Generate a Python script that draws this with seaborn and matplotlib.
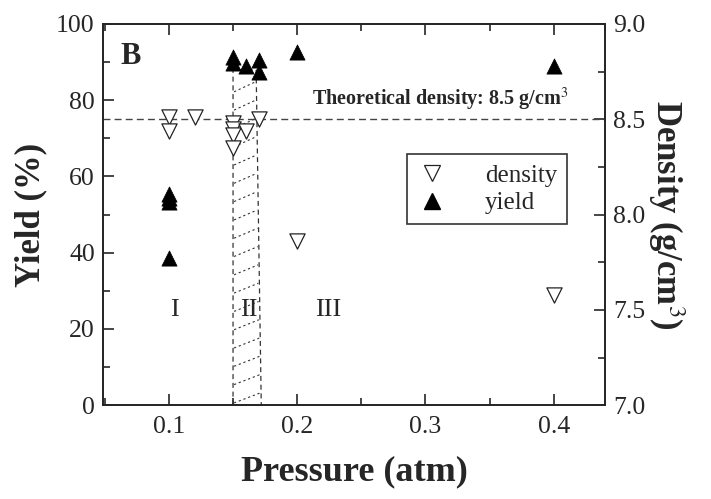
import numpy as np
import pandas as pd
import matplotlib
matplotlib.use("Agg")
import matplotlib.pyplot as plt
from matplotlib.lines import Line2D
from matplotlib.ticker import MultipleLocator
import seaborn as sns

# ---- data ----
yield_pressure = [0.10, 0.10, 0.10, 0.10, 0.15, 0.15, 0.16, 0.17, 0.17, 0.20, 0.40]
yield_values   = [55.5, 54.3, 53.3, 38.7, 91.3, 89.8, 89.0, 90.5, 87.3, 92.6, 89.0]

density_pressure = [0.10, 0.10, 0.12, 0.15, 0.15, 0.15, 0.15, 0.16, 0.17, 0.20, 0.40]
density_values   = [8.51, 8.44, 8.51, 8.48, 8.45, 8.42, 8.35, 8.44, 8.50, 7.86, 7.58]

theoretical_density = 8.5
region_labels = ["I", "II", "III"]
region_label_x = [0.104, 0.1625, 0.224]
region_label_y = 25
region_II_x_bottom = [0.150, 0.172]
region_II_x_top = [0.150, 0.168]
region_II_top = 88

xticks = [0.1, 0.2, 0.3, 0.4]
yticks_left = [0, 20, 40, 60, 80, 100]
yticks_right = [7.0, 7.5, 8.0, 8.5, 9.0]

df_y = pd.DataFrame({"Pressure": yield_pressure, "Yield": yield_values})
df_d = pd.DataFrame({"Pressure": density_pressure, "Density": density_values})

sns.set_style("ticks")
plt.rcParams["font.family"] = ["Liberation Serif", "DejaVu Serif"]
plt.rcParams["mathtext.fontset"] = "stix"

fig = plt.figure(figsize=(7.11, 4.99), dpi=100)
ax = fig.add_axes([0.145, 0.188, 0.706, 0.764])
ax2 = ax.twinx()

# region II: dashed parallelogram with dashed shallow hatch lines
poly_x = [region_II_x_bottom[0], region_II_x_bottom[1], region_II_x_top[1],
          region_II_x_top[0], region_II_x_bottom[0]]
poly_y = [0, 0, region_II_top, region_II_top, 0]
ax.plot(poly_x, poly_y, color="#333333", linestyle=(0, (4, 3)), linewidth=0.9, zorder=1)


def _xr(yv):
    f = yv / region_II_top
    return region_II_x_bottom[1] + f * (region_II_x_top[1] - region_II_x_bottom[1])


hatch_step, hatch_rise = 4.8, 2.6
for y0 in np.arange(0.6, region_II_top - hatch_rise, hatch_step):
    x0 = region_II_x_bottom[0] + 0.0008
    y1 = y0 + hatch_rise
    ax.plot([x0, _xr(y1) - 0.0008], [y0, y1], color="#333333",
            linestyle=(0, (2, 2.5)), linewidth=0.8, zorder=1)

sns.scatterplot(data=df_y, x="Pressure", y="Yield", ax=ax, marker="^", s=120,
                color="black", edgecolor="black", linewidth=0.5, zorder=3, legend=False)
sns.scatterplot(data=df_d, x="Pressure", y="Density", ax=ax2, marker="v", s=120,
                facecolor="white", edgecolor="#222222", linewidth=0.9, zorder=3, legend=False)

ax2.axhline(theoretical_density, color="#444444", linestyle=(0, (5, 3)), linewidth=1.0, zorder=2)
ax2.text(0.2115, theoretical_density + 0.035, "Theoretical density: 8.5 g/cm$^3$",
         fontsize=14.5, fontweight="bold", ha="left", va="bottom")

for lab, lx in zip(region_labels, region_label_x):
    ax.text(lx, region_label_y, lab, fontsize=19, ha="center", va="center")

ax.text(0.0705, 91.5, "B", fontsize=22, fontweight="bold", ha="center", va="center")

ax.set_xlim(0.0487, 0.440)
ax.set_ylim(0, 100)
ax2.set_ylim(7.0, 9.0)
ax.set_xticks(xticks)
ax.set_xticklabels([f"{v:.1f}" for v in xticks])
ax.set_yticks(yticks_left)
ax2.set_yticks(yticks_right)
ax2.set_yticklabels([f"{v:.1f}" for v in yticks_right])
ax.xaxis.set_minor_locator(MultipleLocator(0.05))
ax.yaxis.set_minor_locator(MultipleLocator(10))
ax2.yaxis.set_minor_locator(MultipleLocator(0.25))

ax.tick_params(axis="x", which="both", direction="in", top=True, labelsize=18.5, pad=8)
ax.tick_params(axis="x", which="major", length=8, width=1.2)
ax.tick_params(axis="x", which="minor", length=5, width=1.2)
ax.tick_params(axis="y", which="both", direction="in", right=False, labelsize=18.5, pad=6)
ax.tick_params(axis="y", which="major", length=8, width=1.2)
ax.tick_params(axis="y", which="minor", length=5, width=1.2)
ax2.tick_params(axis="y", which="both", direction="in", left=False, labelsize=18.5, pad=6)
ax2.tick_params(axis="y", which="major", length=8, width=1.2)
ax2.tick_params(axis="y", which="minor", length=5, width=1.2)

for a in (ax, ax2):
    for sp in a.spines.values():
        sp.set_visible(True)
        sp.set_linewidth(1.3)

ax.set_xlabel("Pressure (atm)", fontsize=26, fontweight="bold", labelpad=12)
ax.set_ylabel("Yield (%)", fontsize=25, fontweight="bold", labelpad=6)
ax2.set_ylabel("Density (g/cm$^3$)", fontsize=25, fontweight="bold",
               rotation=270, labelpad=30)

handles = [
    Line2D([], [], linestyle="none", marker="v", markersize=11, markerfacecolor="white",
           markeredgecolor="#222222", markeredgewidth=0.9),
    Line2D([], [], linestyle="none", marker="^", markersize=11, markerfacecolor="black",
           markeredgecolor="black"),
]
leg = ax2.legend(handles, ["density", "yield"], loc="upper left",
                 bbox_to_anchor=(0.606, 0.658), fontsize=18, frameon=True, fancybox=False,
                 edgecolor="black", handletextpad=1.5, borderpad=0.4, labelspacing=0.2,
                 handlelength=1.2, borderaxespad=0)
leg.get_frame().set_linewidth(1.2)

fig.savefig("out.png", dpi=100)
